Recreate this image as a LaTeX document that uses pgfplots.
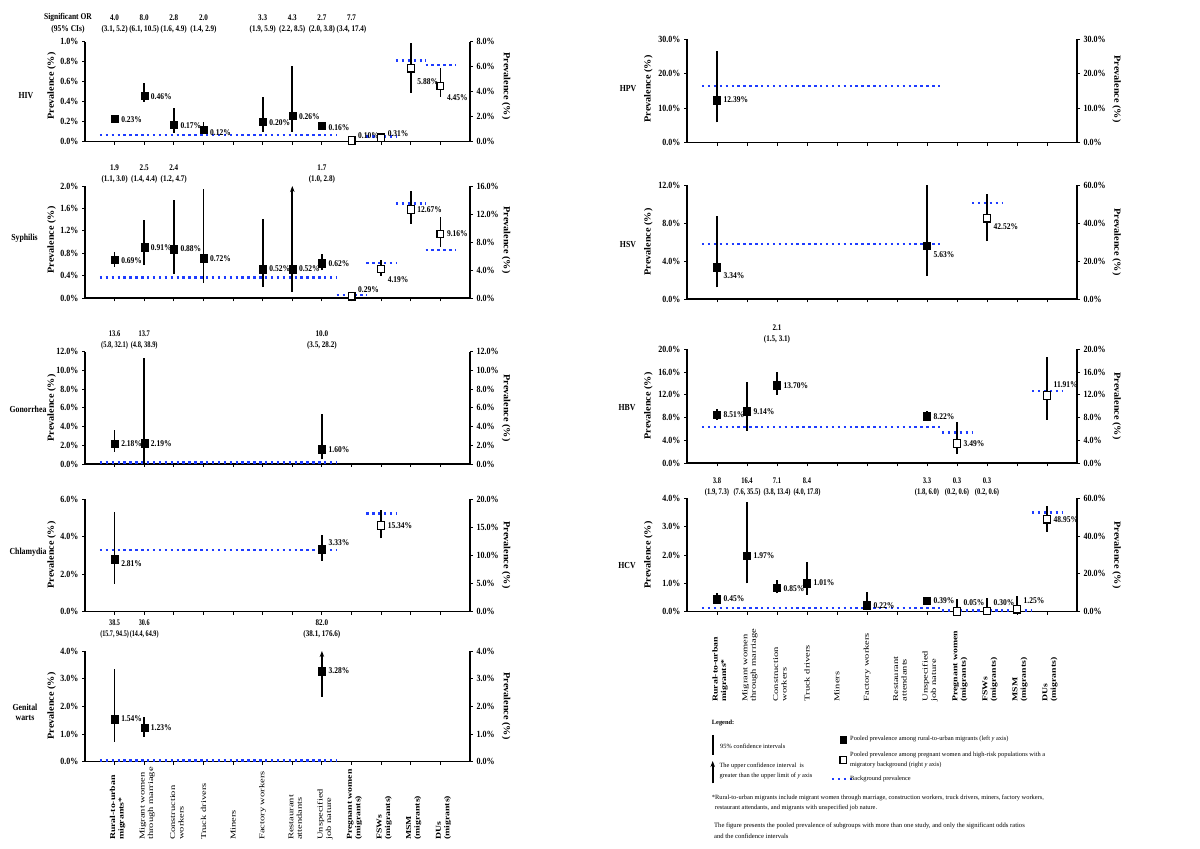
\documentclass[border=0pt]{standalone}
\usepackage{fontspec}
\setmainfont{Liberation Serif}
\usepackage{graphicx}
\usepackage{pgfplots}
\pgfplotsset{compat=1.18}
\usetikzlibrary{arrows.meta}
\definecolor{bgblue}{RGB}{30,60,255}

\newcommand{\tickf}{\fontsize{8}{9}\selectfont\bfseries}
\newcommand{\valf}{\fontsize{7.5}{9}\selectfont\bfseries}
\newcommand{\orf}{\fontsize{7.5}{11.7}\selectfont\bfseries}
\newcommand{\dnf}{\fontsize{7.8}{10}\selectfont\bfseries}
\newcommand{\plf}{\fontsize{8.5}{9}\selectfont\bfseries}
\newcommand{\catf}{\fontsize{7.5}{8.5}\selectfont}
\newcommand{\lgf}{\fontsize{6.4}{10}\selectfont}
\newcommand{\sxr}[1]{\scalebox{1.4}[1]{#1}}
\newcommand{\sxb}[1]{\scalebox{1.3}[1]{\bfseries #1}}
\newcommand{\sxp}[1]{\scalebox{1.2}[1.1]{#1}}
\newcommand{\vs}[1]{\scalebox{1}[1.18]{#1}}

\tikzset{
  bgdots/.style={color=bgblue, line width=2.4pt, dash pattern=on 2.4pt off 3.5pt},
  vlab/.style={anchor=west, font=\valf, inner sep=0pt, xshift=6.5pt},
}
\pgfplotsset{
  ci/.style={black, line width=1.7pt},
  fsq/.style={only marks, mark=square*, mark size=3.5pt, black, mark options={yscale=1.1}},
  osq/.style={only marks, mark=square*, mark size=3.4pt, mark options={fill=white, draw=black, line width=1.2pt, yscale=1.1}},
  base/.style={scale only axis, clip=false, xmin=0, xmax=13, ymin=0, anchor=south west,
    axis line style={line width=1.6pt}, major tick length=3pt, tick align=outside,
    tick style={black, line width=0.9pt},
    /pgf/number format/assume math mode=true,
    yticklabel style={font=\tickf},
    yticklabel={\vs{\pgfmathprintnumber[fixed,fixed zerofill,precision=1]{\tick}\%}}},
  L/.style={base, axis x line*=bottom, axis y line*=left, xtick={1,...,12}, xticklabels={}},
  R/.style={base, axis y line*=right, axis x line=none, xtick=\empty},
  colL/.style={width=385pt, at={(85pt,#1pt)}},
  colR/.style={width=390pt, at={(687pt,#1pt)}},
}
\newcommand{\bg}[3]{\addplot[bgdots] coordinates {(#1,#3) (#2,#3)};}
\newcommand{\ci}[3]{\addplot[ci] coordinates {(#1,#2) (#1,#3)};}
\newcommand{\ciup}[3]{\addplot[ci,-{Stealth[length=6pt,width=4.5pt]}] coordinates {(#1,#2) (#1,#3)};}
\newcommand{\fs}[2]{\addplot[fsq] coordinates {(#1,#2)};}
\newcommand{\os}[2]{\addplot[osq] coordinates {(#1,#2)};}
\newcommand{\vl}[4]{\node[vlab, yshift=#4pt] at (axis cs:#1,#2) {\vs{#3\%}};}
\newcommand{\ORl}[5][0.95]{\node[font=\orf, align=center, inner sep=0pt] at (#2pt,-#3pt) {\scalebox{#1}[1.15]{#4}\\\scalebox{#1}[1.15]{#5}};}

\begin{document}
\begin{tikzpicture}
\useasboundingbox (0,0) rectangle (1200pt,849pt);

%================ HIV
\begin{axis}[L, colL=707.3, height=100pt, ymax=1.0, ytick={0,0.2,0.4,0.6,0.8,1.0}]
\bg{0.5}{8.5}{0.067}
\ci{1}{0.21}{0.25} \fs{1}{0.23} \vl{1}{0.23}{0.23}{-1}
\ci{2}{0.40}{0.59} \fs{2}{0.46} \vl{2}{0.46}{0.46}{-1}
\ci{3}{0.09}{0.34} \fs{3}{0.17} \vl{3}{0.17}{0.17}{-1}
\ci{4}{0.08}{0.20} \fs{4}{0.12} \vl{4}{0.12}{0.12}{-3}
\ci{6}{0.10}{0.45} \fs{6}{0.20} \vl{6}{0.20}{0.20}{-1}
\ci{7}{0.10}{0.76} \fs{7}{0.26} \vl{7}{0.26}{0.26}{-1}
\ci{8}{0.14}{0.19} \fs{8}{0.16} \vl{8}{0.16}{0.16}{-2}
\end{axis}
\begin{axis}[R, colL=707.3, height=100pt, ymax=8, ytick={0,2,4,6,8}]
\bg{9.5}{10.5}{0.4}
\bg{10.5}{11.5}{6.48}
\bg{11.5}{12.5}{6.14}
\os{9}{0.10} \vl{9}{0.10}{0.10}{5}
\ci{10}{0.15}{0.55} \os{10}{0.31} \vl{10}{0.31}{0.31}{4}
\ci{11}{3.9}{7.87} \os{11}{5.88} \vl{11}{5.88}{5.88}{-13}
\ci{12}{3.6}{5.87} \os{12}{4.45} \vl{12}{4.45}{4.45}{-12}
\end{axis}

%================ Syphilis
\begin{axis}[L, colL=550.7, height=112.3pt, ymax=2.0, ytick={0,0.4,0.8,1.2,1.6,2.0}]
\bg{0.5}{8.5}{0.367}
\ci{1}{0.56}{0.83} \fs{1}{0.69} \vl{1}{0.69}{0.69}{-1}
\ci{2}{0.59}{1.39} \fs{2}{0.91} \vl{2}{0.91}{0.91}{0}
\ci{3}{0.43}{1.75} \fs{3}{0.88} \vl{3}{0.88}{0.88}{0}
\ci{4}{0.27}{1.94} \fs{4}{0.72} \vl{4}{0.72}{0.72}{-1}
\ci{6}{0.20}{1.42} \fs{6}{0.52} \vl{6}{0.52}{0.52}{0}
\ciup{7}{0.12}{2.0} \fs{7}{0.52} \vl{7}{0.52}{0.52}{0}
\ci{8}{0.50}{0.78} \fs{8}{0.62} \vl{8}{0.62}{0.62}{0}
\end{axis}
\begin{axis}[R, colL=550.7, height=112.3pt, ymax=16, ytick={0,4,8,12,16}]
\bg{8.5}{9.5}{0.47}
\bg{9.5}{10.5}{4.99}
\bg{10.5}{11.5}{13.5}
\bg{11.5}{12.5}{6.9}
\os{9}{0.29} \vl{9}{0.29}{0.29}{7}
\ci{10}{3.18}{5.46} \os{10}{4.19} \vl{10}{4.19}{4.19}{-11}
\ci{11}{10.6}{15.3} \os{11}{12.67} \vl{11}{12.67}{12.67}{0}
\ci{12}{7.35}{11.6} \os{12}{9.16} \vl{12}{9.16}{9.16}{0}
\end{axis}

%================ Gonorrhea
\begin{axis}[L, colL=385, height=112.3pt, ymax=12, ytick={0,2,4,6,8,10,12}]
\bg{0.5}{8.5}{0.15}
\ci{1}{1.31}{3.63} \fs{1}{2.18} \vl{1}{2.18}{2.18}{0}
\ci{2}{0.0}{11.3} \fs{2}{2.19} \vl{2}{2.19}{2.19}{0}
\ci{8}{0.5}{5.3} \fs{8}{1.60} \vl{8}{1.60}{1.60}{-1}
\end{axis}
\begin{axis}[R, colL=385, height=112.3pt, ymax=12, ytick={0,2,4,6,8,10,12}]
\end{axis}

%================ Chlamydia
\begin{axis}[L, colL=237.3, height=112.4pt, ymax=6, ytick={0,2,4,6}]
\bg{0.5}{8.5}{3.29}
\ci{1}{1.48}{5.34} \fs{1}{2.81} \vl{1}{2.81}{2.81}{-5}
\ci{8}{2.72}{4.09} \fs{8}{3.33} \vl{8}{3.33}{3.33}{7}
\end{axis}
\begin{axis}[R, colL=237.3, height=112.4pt, ymax=20, ytick={0,5,10,15,20}]
\bg{9.5}{10.5}{17.5}
\ci{10}{13.06}{18.1} \os{10}{15.34} \vl{10}{15.34}{15.34}{0}
\end{axis}

%================ Genital warts
\begin{axis}[L, colL=87.3, height=110.7pt, ymax=4, ytick={0,1,2,3,4}]
\bg{0.5}{8.5}{0.05}
\ci{1}{0.72}{3.35} \fs{1}{1.54} \vl{1}{1.54}{1.54}{0}
\ci{2}{0.9}{1.6} \fs{2}{1.23} \vl{2}{1.23}{1.23}{0}
\ciup{8}{2.35}{4.0} \fs{8}{3.28} \vl{8}{3.28}{3.28}{0}
\end{axis}
\begin{axis}[R, colL=87.3, height=110.7pt, ymax=4, ytick={0,1,2,3,4}]
\end{axis}

%================ HPV
\begin{axis}[L, colR=706.3, height=103.4pt, ymax=30, ytick={0,10,20,30}]
\bg{0.5}{8.5}{16.4}
\ci{1}{5.9}{26.5} \fs{1}{12.39} \vl{1}{12.39}{12.39}{0}
\end{axis}
\begin{axis}[R, colR=706.3, height=103.4pt, ymax=30, ytick={0,10,20,30}]
\end{axis}

%================ HSV
\begin{axis}[L, colR=549.7, height=114.3pt, ymax=12, ytick={0,4,8,12}]
\bg{0.5}{8.5}{5.8}
\ci{1}{1.26}{8.75} \fs{1}{3.34} \vl{1}{3.34}{3.34}{-8}
\ci{8}{2.48}{12.0} \fs{8}{5.63} \vl{8}{5.63}{5.63}{-9}
\end{axis}
\begin{axis}[R, colR=549.7, height=114.3pt, ymax=60, ytick={0,20,40,60}]
\bg{9.5}{10.5}{50.4}
\ci{10}{30.6}{55.3} \os{10}{42.52} \vl{10}{42.52}{42.52}{-8}
\end{axis}

%================ HBV
\begin{axis}[L, colR=385.7, height=114pt, ymax=20, ytick={0,4,8,12,16,20}]
\bg{0.5}{8.5}{6.4}
\ci{1}{7.6}{9.47} \fs{1}{8.51} \vl{1}{8.51}{8.51}{0}
\ci{2}{5.7}{14.3} \fs{2}{9.14} \vl{2}{9.14}{9.14}{0}
\ci{3}{12.0}{16.0} \fs{3}{13.70} \vl{3}{13.70}{13.70}{0}
\ci{8}{7.5}{9.2} \fs{8}{8.22} \vl{8}{8.22}{8.22}{0}
\end{axis}
\begin{axis}[R, colR=385.7, height=114pt, ymax=20, ytick={0,4,8,12,16,20}]
\bg{8.5}{9.5}{5.4}
\bg{11.5}{12.5}{12.7}
\ci{9}{1.6}{7.2} \os{9}{3.49} \vl{9}{3.49}{3.49}{0}
\ci{12}{7.6}{18.7} \os{12}{11.91} \vl{12}{11.91}{11.91}{11}
\end{axis}

%================ HCV
\begin{axis}[L, colR=237.3, height=113.4pt, ymax=4, ytick={0,1,2,3,4}]
\bg{0.5}{8.5}{0.12}
\ci{1}{0.35}{0.65} \fs{1}{0.45} \vl{1}{0.45}{0.45}{0}
\ci{2}{1.0}{3.88} \fs{2}{1.97} \vl{2}{1.97}{1.97}{0}
\ci{3}{0.65}{1.12} \fs{3}{0.85} \vl{3}{0.85}{0.85}{-1}
\ci{4}{0.59}{1.76} \fs{4}{1.01} \vl{4}{1.01}{1.01}{0}
\ci{6}{0.05}{0.68} \fs{6}{0.22} \vl{6}{0.22}{0.22}{0}
\ci{8}{0.33}{0.45} \fs{8}{0.39} \vl{8}{0.39}{0.39}{0}
\end{axis}
\begin{axis}[R, colR=237.3, height=113.4pt, ymax=60, ytick={0,20,40,60}]
\bg{8.5}{11.5}{0.6}
\bg{11.5}{12.5}{52.4}
\ci{9}{0}{6.7} \os{9}{0.05} \vl{9}{0.05}{0.05}{9}
\ci{10}{0}{7.0} \os{10}{0.30} \vl{10}{0.30}{0.30}{9}
\ci{11}{0}{8.3} \os{11}{1.25} \vl{11}{1.25}{1.25}{9}
\ci{12}{42.4}{56.1} \os{12}{48.95} \vl{12}{48.95}{48.95}{0}
\end{axis}

%================ texts
\begin{scope}[shift={(0,849pt)}]
\node[font=\dnf] at (26pt,-96pt) {\vs{HIV}};
\node[font=\dnf] at (24.5pt,-238pt) {\vs{Syphilis}};
\node[font=\dnf] at (28pt,-409pt) {\vs{Gonorrhea}};
\node[font=\dnf] at (28pt,-552pt) {\vs{Chlamydia}};
\node[font=\dnf, align=center] at (25pt,-712pt) {\vs{Genital}\\\vs{warts}};
\node[font=\dnf] at (628pt,-89pt) {\vs{HPV}};
\node[font=\dnf] at (628pt,-245pt) {\vs{HSV}};
\node[font=\dnf] at (627pt,-408pt) {\vs{HBV}};
\node[font=\dnf] at (627pt,-566pt) {\vs{HCV}};
\foreach \yy in {86,240,408,555,706} {
  \node[font=\plf, rotate=90] at (51.7pt,-\yy pt) {\sxp{Prevalence (\%)}};
  \node[font=\plf, rotate=-90] at (506pt,-\yy pt) {\sxp{Prevalence (\%)}};
}
\foreach \yy in {89,242,406,555} {
  \node[font=\plf, rotate=90] at (648.3pt,-\yy pt) {\sxp{Prevalence (\%)}};
  \node[font=\plf, rotate=-90] at (1116.7pt,-\yy pt) {\sxp{Prevalence (\%)}};
}
\node[font=\orf, align=center] at (68pt,-23.5pt) {\vs{Significant OR}\\\vs{(95\% CIs)}};
\ORl{114.6}{24}{4.0}{(3.1, 5.2)}
\ORl{144.2}{24}{8.0}{(6.1, 10.5)}
\ORl{173.8}{24}{2.8}{(1.6, 4.9)}
\ORl{203.5}{24}{2.0}{(1.4, 2.9)}
\ORl{262.7}{24}{3.3}{(1.9, 5.9)}
\ORl{292.3}{24}{4.3}{(2.2, 8.5)}
\ORl{321.9}{24}{2.7}{(2.0, 3.8)}
\ORl{351.5}{24}{7.7}{(3.4, 17.4)}
\ORl{114.6}{174}{1.9}{(1.1, 3.0)}
\ORl{144.2}{174}{2.5}{(1.4, 4.4)}
\ORl{173.8}{174}{2.4}{(1.2, 4.7)}
\ORl{321.9}{174}{1.7}{(1.0, 2.8)}
\ORl[0.86]{114.6}{340}{13.6}{(5.8, 32.1)}
\ORl[0.86]{144.2}{340}{13.7}{(4.8, 38.9)}
\ORl{321.9}{340}{10.0}{(3.5, 28.2)}
\ORl[0.82]{114.6}{629}{38.5}{(15.7, 94.5)}
\ORl[0.82]{144.2}{629}{30.6}{(14.4, 64.9)}
\ORl{321.9}{629}{82.0}{(38.1, 176.6)}
\ORl{777}{334}{2.1}{(1.5, 3.1)}
\ORl[0.88]{717}{487}{3.8}{(1.9, 7.3)}
\ORl[0.86]{747}{487}{16.4}{(7.6, 35.5)}
\ORl[0.86]{777}{487}{7.1}{(3.8, 13.4)}
\ORl[0.86]{807}{487}{8.4}{(4.0, 17.8)}
\ORl[0.88]{927}{487}{3.3}{(1.8, 6.0)}
\ORl[0.88]{957}{487}{0.3}{(0.2, 0.6)}
\ORl[0.88]{987}{487}{0.3}{(0.2, 0.6)}
\foreach \xo/\yb/\dx in {85/840/29.615, 687/701.7/30} {
  \begin{scope}[font=\catf]
  \node[rotate=90, anchor=west, align=left, inner sep=0pt] at ({\xo pt+1*\dx pt+3pt},-\yb pt) {\sxb{Rural-to-urban}\\\sxb{migrants*}};
  \node[rotate=90, anchor=west, align=left, inner sep=0pt] at ({\xo pt+2*\dx pt+3pt},-\yb pt) {\sxr{Migrant women}\\\sxr{through marriage}};
  \node[rotate=90, anchor=west, align=left, inner sep=0pt] at ({\xo pt+3*\dx pt+3pt},-\yb pt) {\sxr{Construction}\\\sxr{workers}};
  \node[rotate=90, anchor=west, align=left, inner sep=0pt] at ({\xo pt+4*\dx pt},-\yb pt) {\sxr{Truck drivers}};
  \node[rotate=90, anchor=west, align=left, inner sep=0pt] at ({\xo pt+5*\dx pt},-\yb pt) {\sxr{Miners}};
  \node[rotate=90, anchor=west, align=left, inner sep=0pt] at ({\xo pt+6*\dx pt},-\yb pt) {\sxr{Factory workers}};
  \node[rotate=90, anchor=west, align=left, inner sep=0pt] at ({\xo pt+7*\dx pt+3pt},-\yb pt) {\sxr{Restaurant}\\\sxr{attendants}};
  \node[rotate=90, anchor=west, align=left, inner sep=0pt] at ({\xo pt+8*\dx pt+3pt},-\yb pt) {\sxr{Unspecified}\\\sxr{job nature}};
  \node[rotate=90, anchor=west, align=left, inner sep=0pt] at ({\xo pt+9*\dx pt+3pt},-\yb pt) {\sxb{Pregnant women}\\\sxb{(migrants)}};
  \node[rotate=90, anchor=west, align=left, inner sep=0pt] at ({\xo pt+10*\dx pt+3pt},-\yb pt) {\sxb{FSWs}\\\sxb{(migrants)}};
  \node[rotate=90, anchor=west, align=left, inner sep=0pt] at ({\xo pt+11*\dx pt+3pt},-\yb pt) {\sxb{MSM}\\\sxb{(migrants)}};
  \node[rotate=90, anchor=west, align=left, inner sep=0pt] at ({\xo pt+12*\dx pt+3pt},-\yb pt) {\sxb{DUs}\\\sxb{(migrants)}};
  \end{scope}
}
\node[font=\lgf\bfseries, anchor=west, inner sep=0pt] at (711.7pt,-723.3pt) {Legend:};
\draw[line width=1.6pt] (712.7pt,-735pt) -- (712.7pt,-755pt);
\node[font=\lgf, anchor=west, inner sep=0pt] at (720pt,-746pt) {95\% confidence intervals};
\draw[line width=1.6pt,-{Stealth[length=6pt,width=4.5pt]}] (712.7pt,-783.3pt) -- (712.7pt,-761pt);
\node[font=\lgf, anchor=north west, inner sep=0pt, align=left] at (719.3pt,-762.5pt) {The upper confidence interval \ is\\greater than the upper limit of \textit{y} axis};
\fill (839.8pt,-736pt) rectangle (846.8pt,-744pt);
\node[font=\lgf, anchor=west, inner sep=0pt] at (850pt,-739.3pt) {Pooled prevalence among rural-to-urban migrants (left \textit{y} axis)};
\draw[line width=1.2pt, fill=white] (840pt,-756.5pt) rectangle (846.6pt,-763.8pt);
\node[font=\lgf, anchor=north west, inner sep=0pt, align=left] at (850pt,-751.5pt) {Pooled prevalence among pregnant women and high-risk populations with a\\migratory background (right \textit{y} axis)};
\draw[bgdots] (832pt,-779.3pt) -- (852pt,-779.3pt);
\node[font=\lgf, anchor=west, inner sep=0pt] at (850pt,-779.3pt) {Background prevalence};
\node[font=\lgf, anchor=north west, inner sep=0pt, align=left] at (711.7pt,-795pt) {*Rural-to-urban migrants include migrant women through marriage, construction workers, truck drivers, miners, factory workers,\\\hspace*{3pt}restaurant attendants, and migrants with unspecified job nature.};
\node[font=\fontsize{6.6}{11}\selectfont, anchor=north west, inner sep=0pt, align=left] at (714pt,-823pt) {The figure presents the pooled prevalence of subgroups with more than one study, and only the significant odds ratios\\and the confidence intervals};
\end{scope}
\end{tikzpicture}
\end{document}
